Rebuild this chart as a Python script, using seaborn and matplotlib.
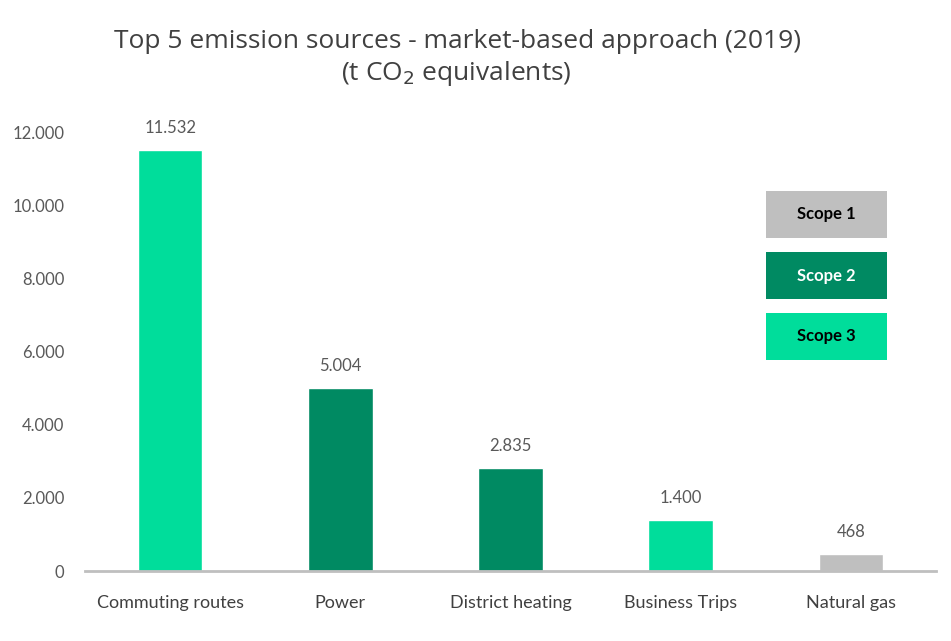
import matplotlib
matplotlib.use("Agg")
import matplotlib.pyplot as plt
import seaborn as sns
import pandas as pd
from matplotlib.patches import Rectangle

categories = ["Commuting routes", "Power", "District heating", "Business Trips", "Natural gas"]
values = [11532, 5004, 2835, 1400, 468]
scopes = ["Scope 3", "Scope 2", "Scope 2", "Scope 3", "Scope 1"]
value_labels = ["11.532", "5.004", "2.835", "1.400", "468"]
yticks = [0, 2000, 4000, 6000, 8000, 10000, 12000]
ytick_labels = ["0", "2.000", "4.000", "6.000", "8.000", "10.000", "12.000"]
legend_labels = ["Scope 1", "Scope 2", "Scope 3"]

palette = {"Scope 1": "#BFBFBF", "Scope 2": "#008A62", "Scope 3": "#00DD9B"}
legend_text_colors = {"Scope 1": "black", "Scope 2": "white", "Scope 3": "black"}

sns.set_theme(style="white")
plt.rcParams['font.family'] = ['Lato', 'DejaVu Sans']

df = pd.DataFrame({"category": categories, "value": values, "scope": scopes})

fig = plt.figure(figsize=(9.51, 6.41), dpi=100)
ax = fig.add_axes([85/951, 1-571/641, (936-85)/951, (571-133)/641])

sns.barplot(data=df, x="category", y="value", hue="scope", palette=palette,
            dodge=False, width=0.38, legend=False, ax=ax, saturation=1)

ax.set_xlim(-0.5, 4.5)
ax.set_ylim(0, 12000)
ax.set_yticks(yticks)
ax.set_yticklabels(ytick_labels, color="#595959", fontsize=12)
ax.tick_params(axis="y", length=0, pad=15)
ax.tick_params(axis="x", length=0, pad=17, labelsize=13, labelcolor="#404040")
ax.set_xlabel("")
ax.set_ylabel("")
for s in ["left", "right", "top"]:
    ax.spines[s].set_visible(False)
ax.spines["bottom"].set_color("#BFBFBF")
ax.spines["bottom"].set_linewidth(2)

for i, (v, lab) in enumerate(zip(values, value_labels)):
    ax.annotate(lab, (i, v), xytext=(0, 10), textcoords="offset points",
                ha="center", va="bottom", fontsize=12, color="#595959", annotation_clip=False)

fig.text(458/951, 1-42/641, "Top 5 emission sources - market-based approach (2019)",
         ha="center", va="center", fontsize=19, color="#404040", family=['Open Sans', 'DejaVu Sans'])
fig.text(456/951, 1-74/641, "(t CO$_2$ equivalents)",
         ha="center", va="center", fontsize=19, color="#404040", family=['Open Sans', 'DejaVu Sans'])

tops = [191, 252, 313]
for lab, t in zip(legend_labels, tops):
    x0, x1 = 766, 887
    h = 47
    rect = Rectangle((x0/951, 1-(t+h)/641), (x1-x0)/951, h/641, transform=fig.transFigure,
                     facecolor=palette[lab], edgecolor="none")
    fig.patches.append(rect)
    fig.text((x0+x1)/2/951, 1-(t+h/2)/641, lab, ha="center", va="center", fontsize=12,
             fontweight="bold", color=legend_text_colors[lab])

fig.savefig("out.png", dpi=100)
